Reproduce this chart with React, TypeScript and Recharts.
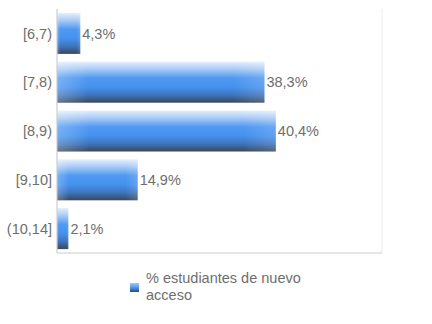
import { Bar, BarChart, CartesianGrid, LabelList, XAxis, YAxis } from "recharts";

const categories = ["[6,7)", "[7,8)", "[8,9)", "[9,10]", "(10,14]"];
const shares = [4.3, 38.3, 40.4, 14.9, 2.1];
const xTicks = [0, 20, 40, 60];
const seriesName = "% estudiantes de nuevo acceso";

const data = categories.map((name, i) => ({ name, value: shares[i] }));

const textColor = "#6e6e6e";
const fontFamily = "'Liberation Sans', Arial, sans-serif";

function formatShare(value: unknown): string {
  const n = typeof value === "number" ? value : Number(value) || 0;
  return `${n.toFixed(1).replace(".", ",")}%`;
}

function GlossyBar(props: any) {
  const { x, y, width, height } = props;
  if (!width || width <= 0) return null;
  return (
    <g>
      <rect x={x} y={y} width={width} height={height} fill="url(#barShade)" />
      <rect x={x} y={y} width={width} height={height} fill="url(#barEdges)" />
    </g>
  );
}

export default function App() {
  return (
    <div style={{ position: "absolute", left: 0, top: 0, width: 432, height: 324, fontFamily }}>
      <BarChart
        data={data}
        height={324}
        layout="vertical"
        margin={{ top: 9, right: 50, bottom: 70, left: 0 }}
        width={432}
        barCategoryGap="8%"
      >
        <defs>
          <linearGradient id="barShade" x1="0" x2="0" y1="0" y2="1">
            <stop offset="0%" stopColor="#e4effd" />
            <stop offset="18%" stopColor="#a9cbf6" />
            <stop offset="40%" stopColor="#4f99f1" />
            <stop offset="62%" stopColor="#4591ee" />
            <stop offset="82%" stopColor="#3e73b8" />
            <stop offset="100%" stopColor="#3a475a" />
          </linearGradient>
          <linearGradient id="barEdges" x1="0" x2="1" y1="0" y2="0">
            <stop offset="0%" stopColor="#ffffff" stopOpacity={0.25} />
            <stop offset="15%" stopColor="#ffffff" stopOpacity={0} />
            <stop offset="85%" stopColor="#ffffff" stopOpacity={0} />
            <stop offset="100%" stopColor="#ffffff" stopOpacity={0.15} />
          </linearGradient>
        </defs>
        <CartesianGrid horizontal={false} stroke="#ebebeb" />
        <XAxis
          axisLine={{ stroke: "#cccccc" }}
          domain={[0, 60]}
          height={1}
          tick={false}
          tickLine={false}
          ticks={xTicks}
          type="number"
        />
        <YAxis
          axisLine={{ stroke: "#cccccc" }}
          dataKey="name"
          tick={{ fill: textColor, fontSize: 14.5, fontFamily }}
          tickLine={false}
          tickMargin={5}
          tickSize={0}
          type="category"
          width={57}
        />
        <Bar dataKey="value" isAnimationActive={false} shape={<GlossyBar />}>
          <LabelList
            dataKey="value"
            fill={textColor}
            fontFamily={fontFamily}
            fontSize={14.5}
            formatter={formatShare}
            offset={2}
            position="right"
          />
        </Bar>
      </BarChart>
      <div
        style={{
          position: "absolute",
          left: 130,
          top: 270,
          display: "flex",
          alignItems: "center",
          gap: 7,
          color: textColor,
          fontSize: 14.5,
          lineHeight: "17px",
        }}
      >
        <span
          style={{
            width: 9,
            height: 9,
            background: "linear-gradient(#a9cbf6, #4591ee 55%, #3a475a)",
            flexShrink: 0,
          }}
        />
        <span style={{ width: 170 }}>{seriesName}</span>
      </div>
    </div>
  );
}
